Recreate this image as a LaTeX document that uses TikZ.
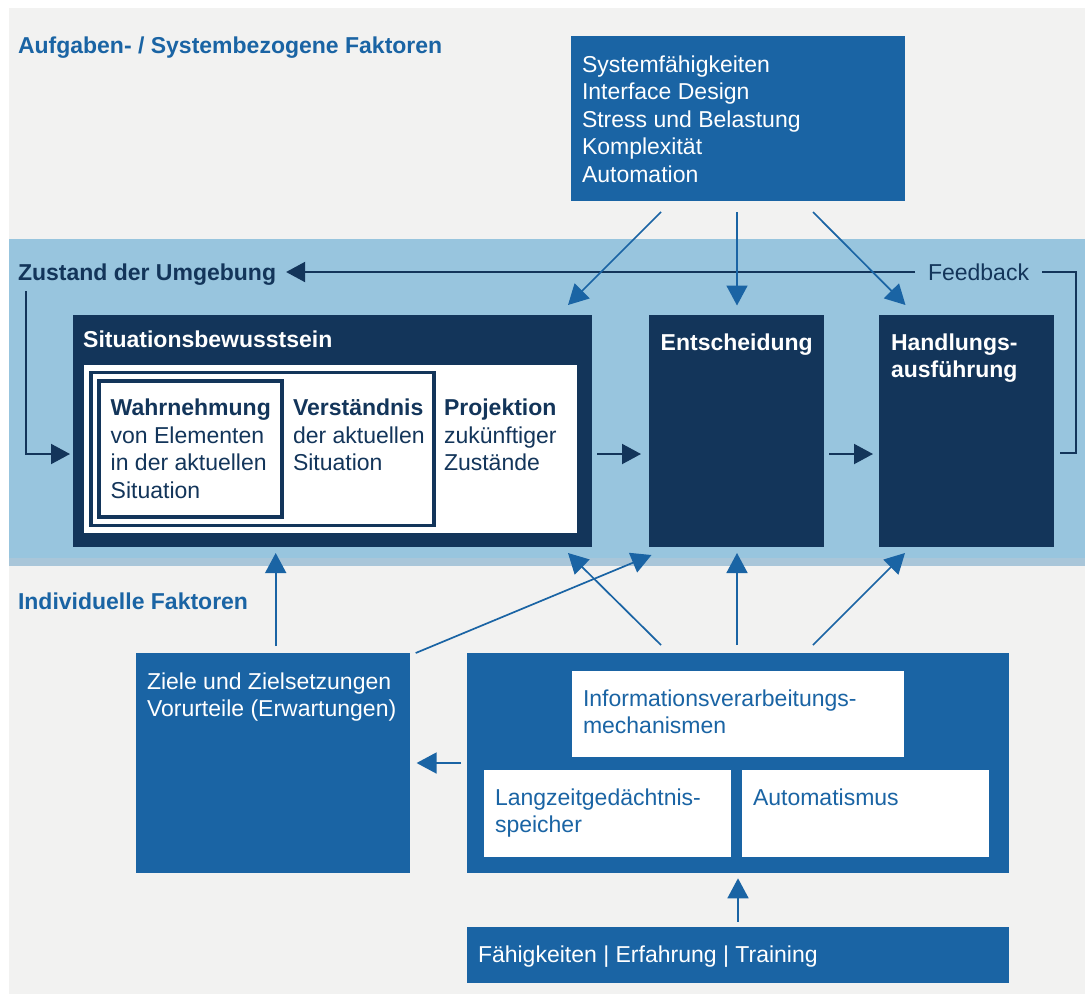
\documentclass[tikz,border=0pt]{standalone}
\usepackage{fontspec}
\setmainfont{Liberation Sans}
\usetikzlibrary{arrows.meta,calc}
\definecolor{bgG}{HTML}{F2F2F1}
\definecolor{bandC}{HTML}{98C5DE}
\definecolor{bandS}{HTML}{A9C6D9}
\definecolor{mblue}{HTML}{1A64A4}
\definecolor{navy}{HTML}{13355A}
\newcommand\mltext[1]{\begin{tabular}[t]{@{}l@{}}#1\end{tabular}}
\tikzset{
  txt/.style={anchor=base west, inner sep=0pt, outer sep=0pt, font=\fontsize{23}{27.6}\selectfont},
  btxt/.style={txt, font=\fontsize{23}{27.6}\selectfont\bfseries},
  boxbase/.style={anchor=north west, inner sep=0pt, outer sep=0pt, draw=none},
  navybox/.style={boxbase, fill=navy},
  bluebox/.style={boxbase, fill=mblue},
  whitebox/.style={boxbase, fill=white},
  navyline/.style={draw=navy, line width=2pt},
  navyarrow/.style={navyline, -{Triangle[length=19pt,width=20pt]}},
  bluearrow/.style={draw=mblue, line width=1.7pt, -{Triangle[length=20pt,width=21pt]}},
}
\begin{document}
\begin{tikzpicture}[x=1pt,y=-1pt]
\useasboundingbox (0,0) rectangle (1085,994);
\fill[white] (0,0) rectangle (1085,994);
\fill[bgG] (9,8) rectangle (1085,994);
\fill[bandC] (9,239.3) rectangle (1085,557.5);
\fill[bandS] (9,557.5) rectangle (1085,565.5);

% headings
\node[btxt, text=mblue] (h1) at (18,53) {Aufgaben- / Systembezogene Faktoren};
\node[btxt, text=navy] (zust) at (18,280) {Zustand der Umgebung};
\node[txt, text=navy] (fbtext) at (928,280) {Feedback};
\node[btxt, text=mblue] (indiv) at (18,609.5) {Individuelle Faktoren};

% top box
\node[bluebox, minimum width=334pt, minimum height=165pt] (top) at (571,36) {};
\node[txt, text=white] (toptext) at (582,72) {\mltext{Systemfähigkeiten\\Interface Design\\Stress und Belastung\\Komplexität\\Automation}};

% band boxes
\node[navybox, minimum width=519pt, minimum height=232.5pt] (sa) at (73,314.5) {};
\node[btxt, text=white] (satitle) at (83.2,347) {Situationsbewusstsein};
\node[whitebox, minimum width=493pt, minimum height=167.5pt] (sainner) at (84,365) {};
\node[boxbase, draw=navy, line width=3.3pt, minimum width=343.2pt, minimum height=153pt] (frameA) at (90.9,372.6) {};
\node[boxbase, draw=navy, line width=4.2pt, minimum width=183pt, minimum height=135.5pt] (frameW) at (99.3,381.2) {};

\node[txt, text=navy] (wahr) at (110.7,415.7) {\mltext{\textbf{Wahrnehmung}\\von Elementen\\in der aktuellen\\Situation}};
\node[txt, text=navy] (verst) at (293,415.7) {\mltext{\textbf{Verständnis}\\der aktuellen\\Situation}};
\node[txt, text=navy] (proj) at (444,415.7) {\mltext{\textbf{Projektion}\\zukünftiger\\Zustände}};

\node[navybox, minimum width=175pt, minimum height=232.5pt] (ent) at (649,314.5) {};
\node[btxt, text=white] (enttext) at (660.7,350) {Entscheidung};
\node[navybox, minimum width=175pt, minimum height=232.5pt] (hand) at (879,314.5) {};
\node[btxt, text=white] (handtext) at (891,350) {\mltext{Handlungs-\\ausführung}};

% bottom boxes
\node[bluebox, minimum width=274pt, minimum height=220pt] (ziele) at (136,653) {};
\node[txt, text=white] (zieletext) at (147,689) {\mltext{Ziele und Zielsetzungen\\Vorurteile (Erwartungen)}};
\node[bluebox, minimum width=542pt, minimum height=220pt] (big) at (467,653) {};
\node[whitebox, minimum width=332pt, minimum height=86.5pt] (info) at (572,670.5) {};
\node[txt, text=mblue] (infotext) at (583,706) {\mltext{Informationsverarbeitungs-\\mechanismen}};
\node[whitebox, minimum width=247pt, minimum height=87.5pt] (lang) at (484,769.5) {};
\node[txt, text=mblue] (langtext) at (495,805) {\mltext{Langzeitgedächtnis-\\speicher}};
\node[whitebox, minimum width=247.5pt, minimum height=87.5pt] (auto) at (741.5,769.5) {};
\node[txt, text=mblue] (autotext) at (753,805) {Automatismus};
\node[bluebox, minimum width=542pt, minimum height=56pt] (faeh) at (467,927) {};
\node[txt, text=white] (faehtext) at (478,962.7) {Fähigkeiten | Erfahrung | Training};

% navy connectors
\draw[navyarrow] ($(sa.south east)+(5,-93)$) -- ($(ent.south west)+(-8,-93)$);
\draw[navyarrow] ($(ent.south east)+(5,-93)$) -- ($(hand.south west)+(-6,-93)$);
\draw[navyline] ($(hand.south east)+(6,-94)$) -| ($(hand.north east)+(22,-42.5)$) -- ($(fbtext.base east)+(13,-8)$);
\draw[navyarrow] ($(fbtext.base west)+(-13,-8)$) -- ($(zust.base east)+(10,-8)$);
\draw[navyarrow] ($(zust.base west)+(8,11)$) |- ($(sa.south west)+(-3,-93)$);

% blue connectors from top box
\draw[bluearrow] ($(top.south west)+(90,11)$) -- ($(sa.north east)+(-24,-9.5)$);
\draw[bluearrow] ($(top.south)+(-1,11)$) -- ($(ent.north)+(0.5,-9)$);
\draw[bluearrow] ($(top.south east)+(-92,11)$) -- ($(hand.north west)+(26.5,-9.5)$);

% blue connectors from bottom
\draw[bluearrow] ($(ziele.north west)+(139.7,-7)$) -- ($(sa.south west)+(202.7,6)$);
\draw[bluearrow] ($(ziele.north east)+(5.7,0)$) -- ($(ent.south west)+(2.5,8)$);
\draw[bluearrow] ($(big.north west)+(194,-8)$) -- ($(sa.south east)+(-24,6)$);
\draw[bluearrow] ($(big.north west)+(270,-8)$) -- ($(ent.south)+(0.5,6)$);
\draw[bluearrow] ($(big.north west)+(346,-8)$) -- ($(hand.south west)+(26,6)$);
\draw[bluearrow] ($(big.west)+(-6,0)$) -- ($(ziele.east)+(6.6,0)$);
\draw[bluearrow] ($(faeh.north)+(0,-5.3)$) -- ($(big.south)+(0,5.3)$);
\end{tikzpicture}
\end{document}
